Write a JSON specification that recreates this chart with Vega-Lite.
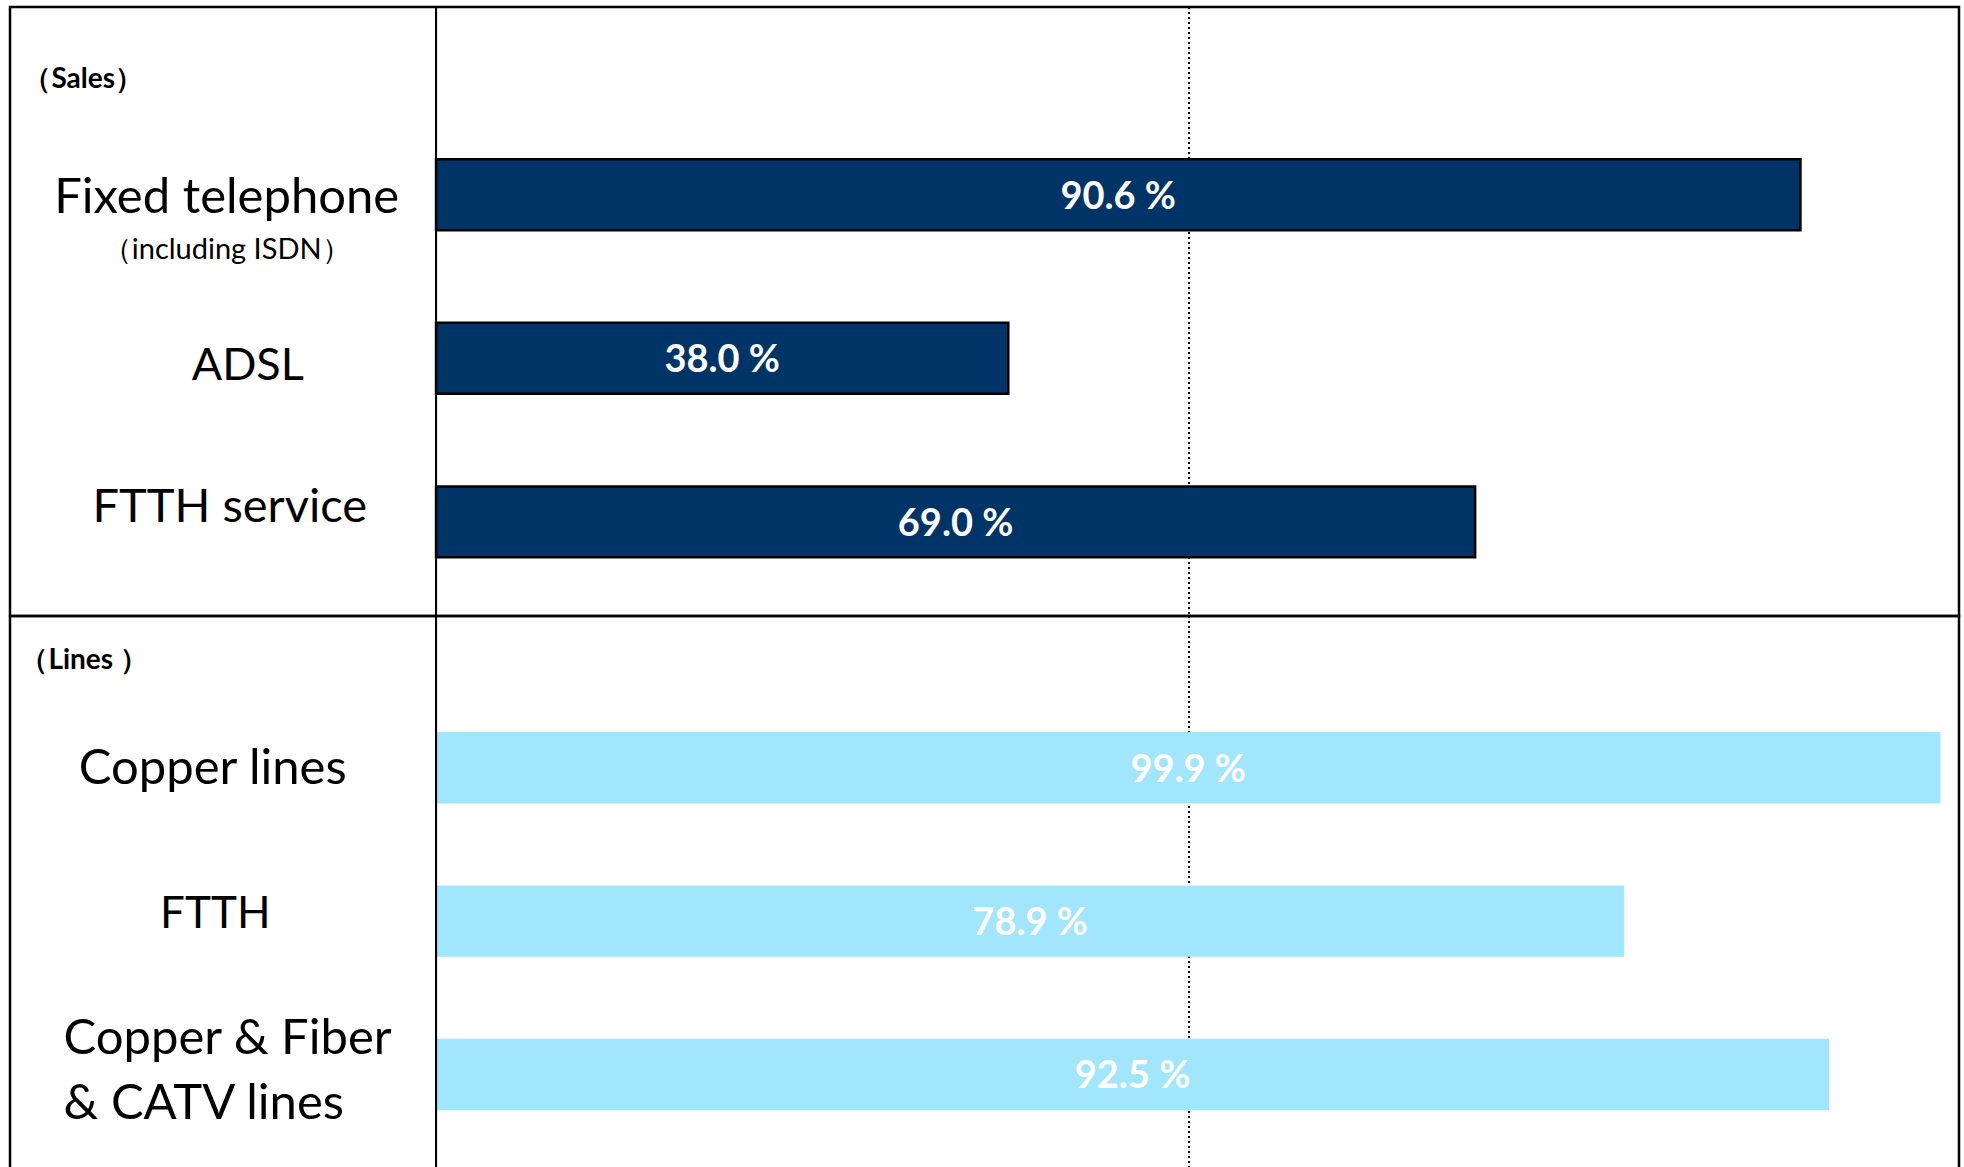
{
  "$schema": "https://vega.github.io/schema/vega-lite/v6.json",
  "padding": {"left": 8, "top": 4, "right": 0, "bottom": 0},
  "background": "white",
  "spacing": 0,
  "bounds": "flush",
  "config": {
    "view": {"stroke": "#000000", "strokeWidth": 2.5},
    "font": "Lato",
    "text": {"font": "Lato"}
  },
  "datasets": {
    "sales": [
      {"item": "Fixed telephone", "value": 90.6, "label": "90.6 %"},
      {"item": "ADSL", "value": 38.0, "label": "38.0 %"},
      {"item": "FTTH service", "value": 69.0, "label": "69.0 %"}
    ],
    "lines": [
      {"item": "Copper lines", "value": 99.9, "label": "99.9 %"},
      {"item": "FTTH", "value": 78.9, "label": "78.9 %"},
      {"item": "Copper & Fiber & CATV lines", "value": 92.5, "label": "92.5 %"}
    ]
  },
  "vconcat": [
    {
      "width": 1949,
      "height": 609,
      "data": {"name": "sales"},
      "layer": [
        {
          "mark": {"type": "rule", "color": "#000000", "strokeWidth": 2, "strokeDash": [2, 3]},
          "encoding": {"x": {"datum": 50, "type": "quantitative", "axis": null,
                             "scale": {"domain": [-28.29, 101.13], "nice": false, "zero": false}}}
        },
        {
          "mark": {"type": "bar", "color": "#003366", "stroke": "#000000", "strokeWidth": 2.5},
          "encoding": {
            "y": {"field": "item", "type": "nominal", "sort": null, "axis": null,
                  "scale": {"type": "band", "paddingInner": 0.566, "paddingOuter": 0.645, "align": 0.722}},
            "x": {"field": "value", "type": "quantitative"}
          }
        },
        {
          "mark": {"type": "rule", "color": "#000000", "strokeWidth": 2},
          "encoding": {"x": {"datum": 0, "type": "quantitative"}}
        },
        {
          "data": {"values": [{}]},
          "mark": {"type": "text", "color": "#000000", "fontSize": 49, "align": "center", "baseline": "middle", "dy": 3},
          "encoding": {
            "x": {"datum": -13.9, "type": "quantitative"},
            "y": {"datum": "Fixed telephone", "type": "nominal"},
            "text": {"value": "Fixed telephone"}
          }
        },
        {
          "data": {"values": [{}]},
          "mark": {"type": "text", "color": "#000000", "fontSize": 29, "align": "center", "baseline": "middle", "dy": 55},
          "encoding": {
            "x": {"datum": -13.9, "type": "quantitative"},
            "y": {"datum": "Fixed telephone", "type": "nominal"},
            "text": {"value": "（including ISDN）"}
          }
        },
        {
          "data": {"values": [{}]},
          "mark": {"type": "text", "color": "#000000", "fontSize": 45, "align": "center", "baseline": "middle", "dy": 8},
          "encoding": {
            "x": {"datum": -12.5, "type": "quantitative"},
            "y": {"datum": "ADSL", "type": "nominal"},
            "text": {"value": "ADSL"}
          }
        },
        {
          "data": {"values": [{}]},
          "mark": {"type": "text", "color": "#000000", "fontSize": 47, "align": "center", "baseline": "middle", "dy": -14},
          "encoding": {
            "x": {"datum": -13.7, "type": "quantitative"},
            "y": {"datum": "FTTH service", "type": "nominal"},
            "text": {"value": "FTTH service"}
          }
        },
        {
          "data": {"values": [{}]},
          "mark": {"type": "text", "color": "#000000", "fontSize": 28, "fontWeight": "bold", "align": "left", "baseline": "middle", "dy": -115},
          "encoding": {
            "x": {"datum": -27.4, "type": "quantitative"},
            "y": {"datum": "Fixed telephone", "type": "nominal"},
            "text": {"value": "（Sales）"}
          }
        },
        {
          "mark": {"type": "text", "color": "white", "fontWeight": "bold", "fontSize": 38, "align": "center", "baseline": "middle", "dy": 3,
                   "dx": {"expr": "(scale('concat_0_x', 0) - scale('concat_0_x', datum.value)) / 2"}},
          "encoding": {
            "y": {"field": "item", "type": "nominal", "sort": null},
            "x": {"field": "value", "type": "quantitative"},
            "text": {"field": "label", "type": "nominal"}
          }
        }
      ]
    },
    {
      "width": 1949,
      "height": 556,
      "data": {"name": "lines"},
      "layer": [
        {
          "mark": {"type": "rule", "color": "#000000", "strokeWidth": 2, "strokeDash": [2, 3]},
          "encoding": {"x": {"datum": 50, "type": "quantitative", "axis": null,
                             "scale": {"domain": [-28.29, 101.13], "nice": false, "zero": false}}}
        },
        {
          "mark": {"type": "bar", "color": "#A1E6FC"},
          "encoding": {
            "y": {"field": "item", "type": "nominal", "sort": null, "axis": null,
                  "scale": {"type": "band", "paddingInner": 0.534, "paddingOuter": 0.58, "align": 0.6525}},
            "x": {"field": "value", "type": "quantitative"}
          }
        },
        {
          "mark": {"type": "rule", "color": "#000000", "strokeWidth": 2},
          "encoding": {"x": {"datum": 0, "type": "quantitative"}}
        },
        {
          "data": {"values": [{}]},
          "mark": {"type": "text", "color": "#000000", "fontSize": 49, "align": "center", "baseline": "middle", "dy": 1},
          "encoding": {
            "x": {"datum": -14.83, "type": "quantitative"},
            "y": {"datum": "Copper lines", "type": "nominal"},
            "text": {"value": "Copper lines"}
          }
        },
        {
          "data": {"values": [{}]},
          "mark": {"type": "text", "color": "#000000", "fontSize": 44, "align": "center", "baseline": "middle", "dy": -6},
          "encoding": {
            "x": {"datum": -14.66, "type": "quantitative"},
            "y": {"datum": "FTTH", "type": "nominal"},
            "text": {"value": "FTTH"}
          }
        },
        {
          "data": {"values": [{}]},
          "mark": {"type": "text", "color": "#000000", "fontSize": 49, "align": "left", "baseline": "middle", "lineHeight": 65, "dy": -35},
          "encoding": {
            "x": {"datum": -24.74, "type": "quantitative"},
            "y": {"datum": "Copper & Fiber & CATV lines", "type": "nominal"},
            "text": {"value": ["Copper & Fiber", "& CATV lines"]}
          }
        },
        {
          "data": {"values": [{}]},
          "mark": {"type": "text", "color": "#000000", "fontSize": 28, "fontWeight": "bold", "align": "left", "baseline": "middle", "dy": -107},
          "encoding": {
            "x": {"datum": -27.6, "type": "quantitative"},
            "y": {"datum": "Copper lines", "type": "nominal"},
            "text": {"value": "（Lines ）"}
          }
        },
        {
          "mark": {"type": "text", "color": "white", "fontWeight": "bold", "fontSize": 38, "align": "center", "baseline": "middle", "dy": 3,
                   "dx": {"expr": "(scale('concat_1_x', 0) - scale('concat_1_x', datum.value)) / 2"}},
          "encoding": {
            "y": {"field": "item", "type": "nominal", "sort": null},
            "x": {"field": "value", "type": "quantitative"},
            "text": {"field": "label", "type": "nominal"}
          }
        }
      ]
    }
  ]
}
